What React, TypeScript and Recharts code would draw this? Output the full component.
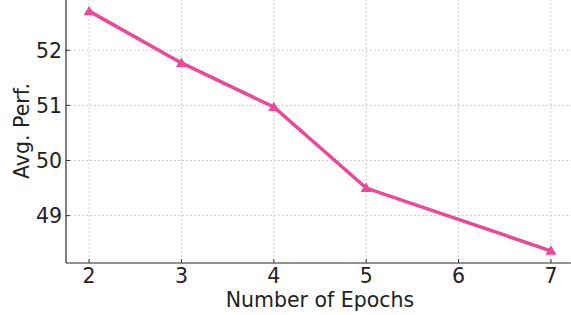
import { LineChart, Line, XAxis, YAxis, CartesianGrid } from 'recharts';

const epochs = [2, 3, 4, 5, 7];
const avgPerf = [52.71, 51.77, 50.97, 49.5, 48.36];
const xTicks = [2, 3, 4, 5, 6, 7];
const yTicks = [49, 50, 51, 52];

const data = epochs.map((e, i) => ({ epoch: e, perf: avgPerf[i] }));

const FONT = 'DejaVu Sans, sans-serif';
const PINK = '#ec4899';
const AXIS = '#333333';
const FS = 20.5;

const XTick = ({ x, y, payload }: any) => (
  <g>
    <line x1={x} x2={x} y1={y - 5} y2={y - 9} stroke={AXIS} strokeWidth={1} />
    <text x={x} y={y} dy="0.75em" textAnchor="middle" fontSize={FS} fontFamily={FONT} fill="#222">
      {payload.value}
    </text>
  </g>
);

const YTick = ({ x, y, payload }: any) => (
  <g>
    <line x1={x + 4} x2={x + 8} y1={y} y2={y} stroke={AXIS} strokeWidth={1} />
    <text x={x} y={y} dy="0.36em" textAnchor="end" fontSize={FS} fontFamily={FONT} fill="#222">
      {payload.value}
    </text>
  </g>
);

const TriangleDot = ({ cx, cy }: any) => (
  <path d={`M${cx},${cy - 5.5} L${cx - 5.5},${cy + 4} L${cx + 5.5},${cy + 4} Z`} fill={PINK} />
);

const YLabel = ({ viewBox }: any) => {
  const cx = 22;
  const cy = viewBox.y + viewBox.height / 2;
  return (
    <text
      x={cx}
      y={cy}
      transform={`rotate(-90, ${cx}, ${cy})`}
      textAnchor="middle"
      dominantBaseline="central"
      fontSize={FS}
      fontFamily={FONT}
      fill="#222"
    >
      Avg. Perf.
    </text>
  );
};

export default function App() {
  return (
    <div style={{ position: 'absolute', left: 0, top: 0, width: 571, height: 315, overflow: 'hidden', background: '#fff' }}>
      <div style={{ marginTop: -10 }}>
        <LineChart width={580} height={325} data={data} margin={{ top: 9, right: 6, bottom: 0, left: 0 }}>
          <CartesianGrid stroke="#c4c4c4" strokeDasharray="2 2" strokeWidth={0.8} />
          <XAxis
            dataKey="epoch"
            type="number"
            domain={[1.75, 7.25]}
            ticks={xTicks}
            allowDataOverflow
            height={52}
            tickSize={0}
            tickMargin={5}
            tick={<XTick />}
            axisLine={{ stroke: AXIS, strokeWidth: 1.2 }}
            label={{ value: 'Number of Epochs', position: 'insideBottom', offset: 8, fontSize: FS, fontFamily: FONT, fill: '#222' }}
          />
          <YAxis
            type="number"
            domain={[48.14, 52.93]}
            ticks={yTicks}
            allowDataOverflow
            width={66}
            tickSize={0}
            tickMargin={4}
            tick={<YTick />}
            axisLine={{ stroke: AXIS, strokeWidth: 1.2 }}
            label={<YLabel />}
          />
          <Line
            dataKey="perf"
            type="linear"
            stroke={PINK}
            strokeWidth={3.5}
            dot={<TriangleDot />}
            activeDot={false}
            isAnimationActive={false}
          />
        </LineChart>
      </div>
    </div>
  );
}
